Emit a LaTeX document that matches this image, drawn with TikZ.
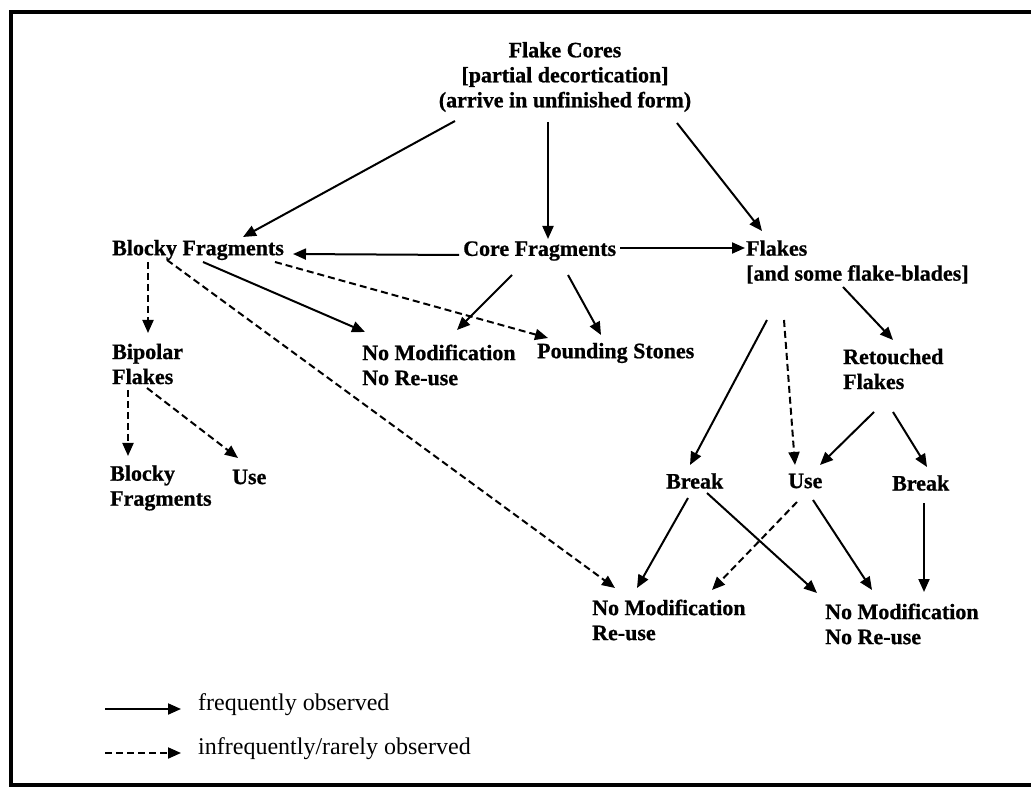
\documentclass[tikz,border=0pt]{standalone}
\usepackage{fontspec}
\setmainfont{Liberation Serif}[BoldFeatures={FakeBold=0.8}]
\usetikzlibrary{arrows.meta}
\begin{document}
\begin{tikzpicture}[x=1pt,y=-1pt,
  lbl/.style={font=\bfseries\fontsize{22}{25}\selectfont, inner sep=0pt, align=left, anchor=west},
  keytext/.style={font=\fontsize{24}{26}\selectfont, inner sep=0pt, anchor=west},
  freq/.style={line width=2pt, -{Triangle[length=13pt,width=11pt]}},
  rare/.style={freq, dash pattern=on 7pt off 4pt},
  frame/.style={line width=4.5pt}]
\useasboundingbox (0,0) rectangle (1031,791);
\fill[white] (0,0) rectangle (1031,791);
\draw[frame] (1031,12) -- (11,12) -- (11,785) -- (1031,785);

% nodes
\node[lbl, anchor=center, align=center] (FC) at (565,77)
  {Flake Cores\\{[partial decortication]}\\(arrive in unfinished form)};
\node[lbl] (BF)  at (112,250) {Blocky Fragments};
\node[lbl] (CF)  at (463,251) {Core Fragments};
\node[lbl] (FL)  at (746,262) {Flakes\\{[and some flake-blades]}};
\node[lbl] (BP)  at (112,364) {Bipolar\\Flakes};
\node[lbl] (NM1) at (362,365) {No Modification\\No Re-use};
\node[lbl] (PS)  at (537,353) {Pounding Stones};
\node[lbl] (RF)  at (843,369) {Retouched\\Flakes};
\node[lbl] (BF2) at (110,488) {Blocky\\Fragments};
\node[lbl] (U1)  at (232,477) {Use};
\node[lbl] (BR1) at (666,481) {Break};
\node[lbl] (U2)  at (788,481) {Use};
\node[lbl] (BR2) at (892,483) {Break};
\node[lbl] (NMR) at (592,620) {No Modification\\Re-use};
\node[lbl] (NMN) at (825,624) {No Modification\\No Re-use};

% connectors from the flake cores
\draw[freq] ([shift={(-110,44)}]FC.center) -- ([shift={(131,-13)}]BF.west);
\draw[freq] ([shift={(-17,45)}]FC.center) -- ([shift={(85,-12)}]CF.west);
\draw[freq] ([shift={(112,46)}]FC.center) -- ([shift={(16,-31)}]FL.west);

% core fragments
\draw[freq] ([shift={(-4,4)}]CF.west) -- ([shift={(181,4)}]BF.west);
\draw[freq] ([shift={(157,-3)}]CF.west) -- ([shift={(-1,-14)}]FL.west);
\draw[freq] ([shift={(49,24)}]CF.west) -- ([shift={(95,-35)}]NM1.west);
\draw[freq] ([shift={(105,24)}]CF.west) -- ([shift={(64,-18)}]PS.west);

% blocky fragments
\draw[rare] ([shift={(36,12)}]BF.west) -- ([shift={(36,-31)}]BP.west);
\draw[freq] ([shift={(91,12)}]BF.west) -- ([shift={(3,-33)}]NM1.west);
\draw[rare] ([shift={(163,12)}]BF.west) -- ([shift={(11,-15)}]PS.west);
\draw[rare] ([shift={(55,10)}]BF.west) -- ([shift={(23,-32)}]NMR.west);

% bipolar flakes
\draw[rare] ([shift={(16,26)}]BP.west) -- ([shift={(18,-32)}]BF2.west);
\draw[rare] ([shift={(35,24)}]BP.west) -- ([shift={(6,-19)}]U1.west);

% flakes
\draw[freq] ([shift={(21,58)}]FL.west) -- ([shift={(24,-16)}]BR1.west);
\draw[rare] ([shift={(38,58)}]FL.west) -- ([shift={(7,-16)}]U2.west);
\draw[freq] ([shift={(97,25)}]FL.west) -- ([shift={(50,-29)}]RF.west);

% retouched flakes
\draw[freq] ([shift={(31,43)}]RF.west) -- ([shift={(32,-16)}]U2.west);
\draw[freq] ([shift={(50,43)}]RF.west) -- ([shift={(35,-16)}]BR2.west);

% break / use outcomes
\draw[freq] ([shift={(22,17)}]BR1.west) -- ([shift={(45,-32)}]NMR.west);
\draw[freq] ([shift={(41,12)}]BR1.west) -- ([shift={(-8,-31)}]NMN.west);
\draw[rare] ([shift={(9,21)}]U2.west) -- ([shift={(120,-30)}]NMR.west);
\draw[freq] ([shift={(25,19)}]U2.west) -- ([shift={(47,-34)}]NMN.west);
\draw[freq] ([shift={(32,20)}]BR2.west) -- ([shift={(99,-32)}]NMN.west);

% key
\coordinate (k1a) at (105,709);
\coordinate (k1b) at (181,709);
\coordinate (k2a) at (105,753);
\coordinate (k2b) at (181,753);
\draw[freq] (k1a) -- (k1b);
\draw[rare] (k2a) -- (k2b);
\node[keytext] (K1) at (198,705) {frequently observed};
\node[keytext] (K2) at (198,749) {infrequently/rarely observed};
\end{tikzpicture}
\end{document}
